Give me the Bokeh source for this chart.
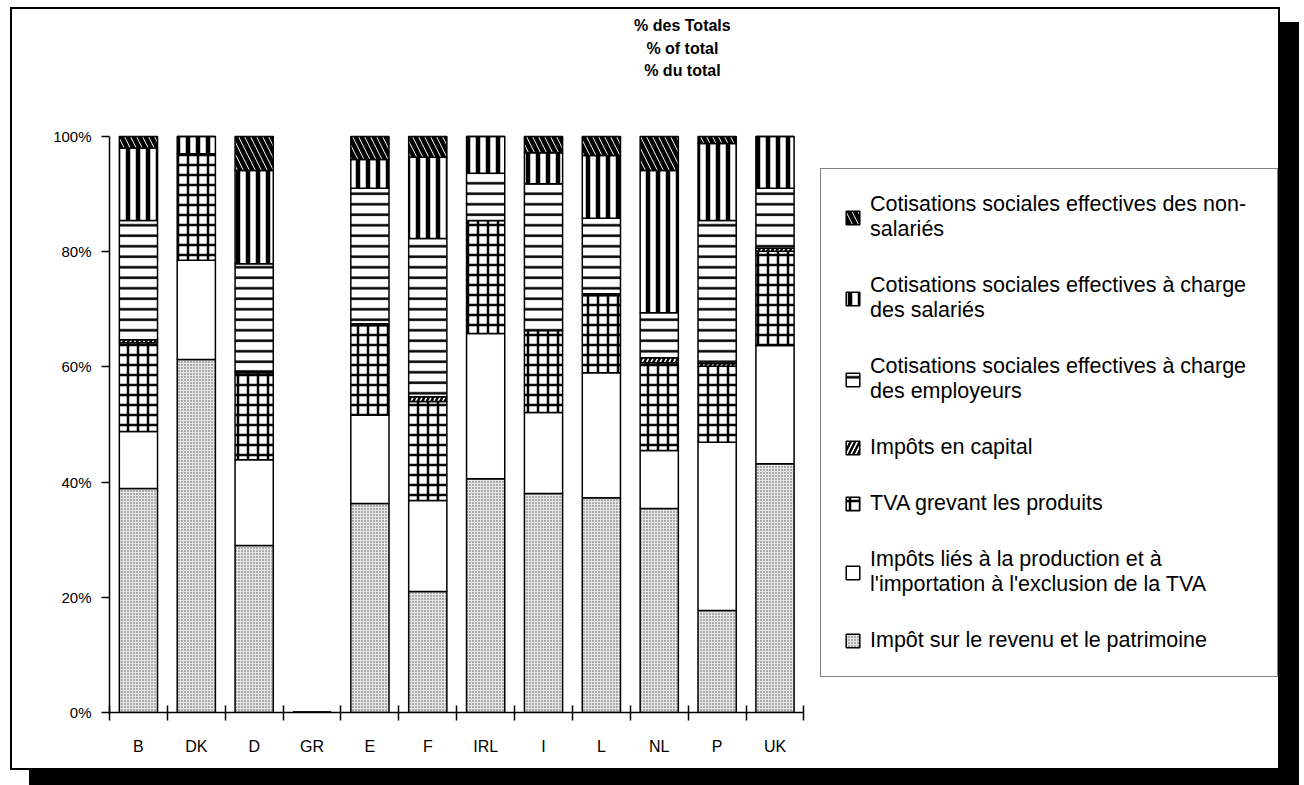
from bokeh.plotting import figure
from bokeh.models import (ColumnDataSource, Range1d, FixedTicker, Legend, LegendItem,
                          Label, PrintfTickFormatter)
from bokeh.embed import file_html
from bokeh.resources import INLINE

# ---------------- data ----------------
countries = ["B", "DK", "D", "GR", "E", "F", "IRL", "I", "L", "NL", "P", "UK"]
income     = [38.9, 61.3, 29.0, 0, 36.3, 21.0, 40.6, 38.0, 37.3, 35.4, 17.7, 43.2]
production = [ 9.9, 17.2, 14.9, 0, 15.3, 15.8, 25.2, 14.1, 21.7, 10.1, 29.2, 20.5]
tva        = [15.4, 18.5, 15.1, 0, 15.6, 17.2, 19.6, 14.2, 13.4, 15.2, 13.2, 16.4]
capital    = [ 0.5,  0.0,  0.3, 0,  0.3,  0.8,  0.0,  0.0,  0.3,  0.9,  0.5,  0.5]
employers  = [20.7,  0.0, 18.6, 0, 23.5, 27.5,  8.2, 25.5, 13.1,  7.8, 24.8, 10.4]
employees  = [12.6,  3.0, 16.2, 0,  5.0, 14.1,  6.4,  5.4, 10.9, 24.7, 13.4,  9.0]
nonsal     = [ 2.0,  0.0,  5.9, 0,  4.0,  3.6,  0.0,  2.8,  3.3,  5.9,  1.2,  0.0]
y_ticks = [0, 20, 40, 60, 80, 100]

series_names = ["income", "production", "tva", "capital", "employers", "employees", "nonsal"]
series_labels = [
    "Impôt sur le revenu et le patrimoine",
    "Impôts liés à la production et à\nl'importation à l'exclusion de la TVA",
    "TVA grevant les produits",
    "Impôts en capital",
    "Cotisations sociales effectives à charge\ndes employeurs",
    "Cotisations sociales effectives à charge\ndes salariés",
    "Cotisations sociales effectives des non-\nsalariés",
]
title_lines = ["% des Totals", "% of total", "% du total"]

x_pos = list(range(len(countries)))
boundaries = [i - 0.5 for i in range(len(countries) + 1)]

source = ColumnDataSource(dict(x=x_pos, income=income, production=production, tva=tva,
                               capital=capital, employers=employers, employees=employees,
                               nonsal=nonsal))

# ---------------- figure ----------------
# The frame extends right (legend area) and up (heading area); the axes are bounded
# to the data part only.
p = figure(width=1266, height=759,
           min_border_left=97, min_border_top=0, min_border_bottom=60, min_border_right=0,
           x_range=Range1d(-0.5, 19.77), y_range=Range1d(0, 122.05),
           output_backend="svg", toolbar_location=None, tools="")
p.styles = {"border": "2px solid black", "box-shadow": "19px 15px 0px 0px black",
            "box-sizing": "content-box", "margin-left": "10px", "margin-top": "7px"}
p.outline_line_color = None
p.xgrid.grid_line_color = None
p.ygrid.grid_line_color = None
p.background_fill_color = "white"
p.border_fill_color = "white"

fills = ["#e6e6e6", "white", "white", "white", "white", "white", "white"]
hatches = ["dot", " ", "cross", "right_diagonal_line", "horizontal_line", "vertical_line",
           "left_diagonal_line"]
hscale = [3.0, 10, 10, 9, 10.5, 10, 12]
hweight = [0.9, 1, 2.5, 2.5, 2.5, 4.5, 4.5]
hcolor = ["#555555", "black", "black", "black", "black", "black", "black"]

renderers = p.vbar_stack(series_names, x="x", width=0.66, source=source,
                         fill_color=fills, hatch_pattern=hatches, hatch_scale=hscale,
                         hatch_weight=hweight, hatch_color=hcolor,
                         line_color="black", line_width=1.5)

# y axis
ya = p.yaxis[0]
ya.bounds = (0, 100)
ya.ticker = FixedTicker(ticks=y_ticks, minor_ticks=[])
ya.formatter = PrintfTickFormatter(format="%d%%")
ya.axis_line_color = "black"
ya.axis_line_width = 1.5
ya.major_tick_in = 0
ya.major_tick_out = 8
ya.major_tick_line_width = 1.5
ya.major_label_standoff = 10
ya.major_label_text_font = "Liberation Sans"
ya.major_label_text_font_size = "15px"
ya.major_label_text_color = "black"

# x axis
xa = p.xaxis[0]
xa.bounds = (boundaries[0], boundaries[-1])
xa.ticker = FixedTicker(ticks=x_pos, minor_ticks=boundaries)
xa.major_label_overrides = {i: c for i, c in zip(x_pos, countries)}
xa.axis_line_color = "black"
xa.axis_line_width = 1.5
xa.major_tick_in = 0
xa.major_tick_out = 0
xa.minor_tick_in = 7
xa.minor_tick_out = 8
xa.minor_tick_line_color = "black"
xa.minor_tick_line_width = 1.5
xa.major_label_standoff = 17
xa.major_label_text_font = "Liberation Sans"
xa.major_label_text_font_size = "16px"
xa.major_label_text_color = "black"

# heading (three centred lines above the bars)
for line, yy in zip(title_lines, [119.3, 115.3, 111.5]):
    p.add_layout(Label(x=9.4, y=yy, text=line, text_align="center", text_baseline="middle",
                       text_font="Liberation Sans", text_font_style="bold",
                       text_font_size="16px", text_color="black"))

# legend
items = [LegendItem(label=lab, renderers=[r]) for lab, r in zip(series_labels, renderers)]
items = items[::-1]
legend = Legend(items=items, location=(711, 35), padding=23,
                spacing=31, glyph_width=17, glyph_height=17, label_standoff=9,
                label_width=384,
                label_text_font="Liberation Sans", label_text_font_size="21.5px",
                label_text_color="black",
                border_line_color="black", border_line_width=1.5,
                background_fill_color="white", background_fill_alpha=1.0)
p.add_layout(legend)

open("out.html", "w").write(file_html(p, INLINE))
